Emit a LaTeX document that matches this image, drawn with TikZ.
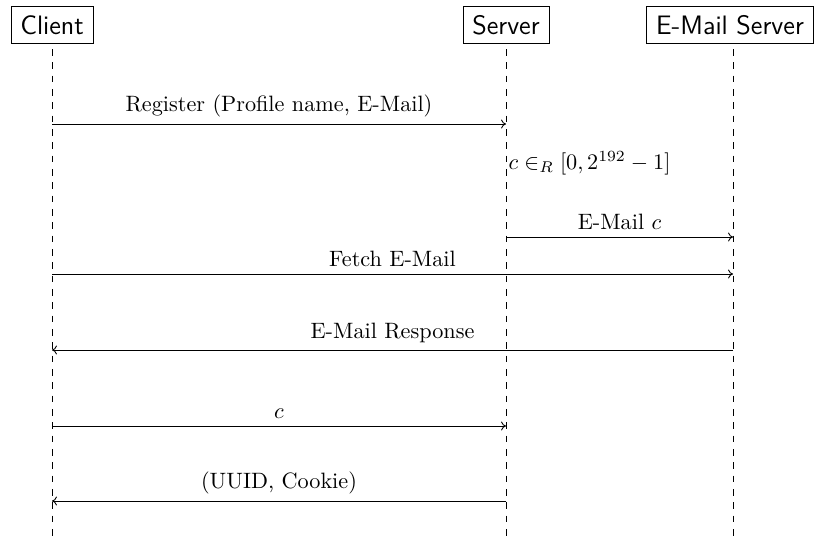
\documentclass[tikz,border=0pt]{standalone}
\usetikzlibrary{arrows.meta}
\begin{document}
\begin{tikzpicture}[x=0.45pt,y=-0.45pt,
  actor/.style={draw,font=\sffamily\large,inner xsep=4.2pt,inner ysep=3.2pt,minimum height=16.8pt,anchor=south},
  life/.style={dashed},
  msg/.style={-{To[length=2.2pt,width=4pt]}},
  lbl/.style={above,inner sep=3pt}]
\useasboundingbox (0,0) rectangle (814,536);
\node[actor] (client) at (52,44) {Client};
\node[actor] (server) at (506,44) {Server};
\node[actor] (mail) at (730,44) {E-Mail Server};
\coordinate (ct) at (52,49);
\coordinate (cb) at (52,536);
\coordinate (st) at (506,49);
\coordinate (sb) at (506,536);
\coordinate (mt) at (733,49);
\coordinate (mb) at (733,536);
\draw[life] (ct) -- (cb);
\draw[life] (st) -- (sb);
\draw[life] (mt) -- (mb);
% messages
\coordinate (c1) at (52,124); \coordinate (s1) at (506,124);
\draw[msg] (c1) -- node[lbl] (l1) {Register (Profile name, E-Mail)} (s1);
\node[anchor=west,inner sep=1pt] (rnd) at (506,163) {$c \in_R [0, 2^{192}-1]$};
\coordinate (s2) at (506,237); \coordinate (m2) at (733,237);
\draw[msg] (s2) -- node[lbl] (l2) {E-Mail $c$} (m2);
\coordinate (c3) at (52,274); \coordinate (m3) at (733,274);
\draw[msg] (c3) -- node[lbl] (l3) {Fetch E-Mail} (m3);
\coordinate (m4) at (733,350); \coordinate (c4) at (52,350);
\draw[msg] (m4) -- node[lbl] (l4) {E-Mail Response} (c4);
\coordinate (c5) at (52,426); \coordinate (s5) at (506,426);
\draw[msg] (c5) -- node[lbl] (l5) {$c$} (s5);
\coordinate (s6) at (506,501); \coordinate (c6) at (52,501);
\draw[msg] (s6) -- node[lbl] (l6) {(UUID, Cookie)} (c6);
\end{tikzpicture}
\end{document}
